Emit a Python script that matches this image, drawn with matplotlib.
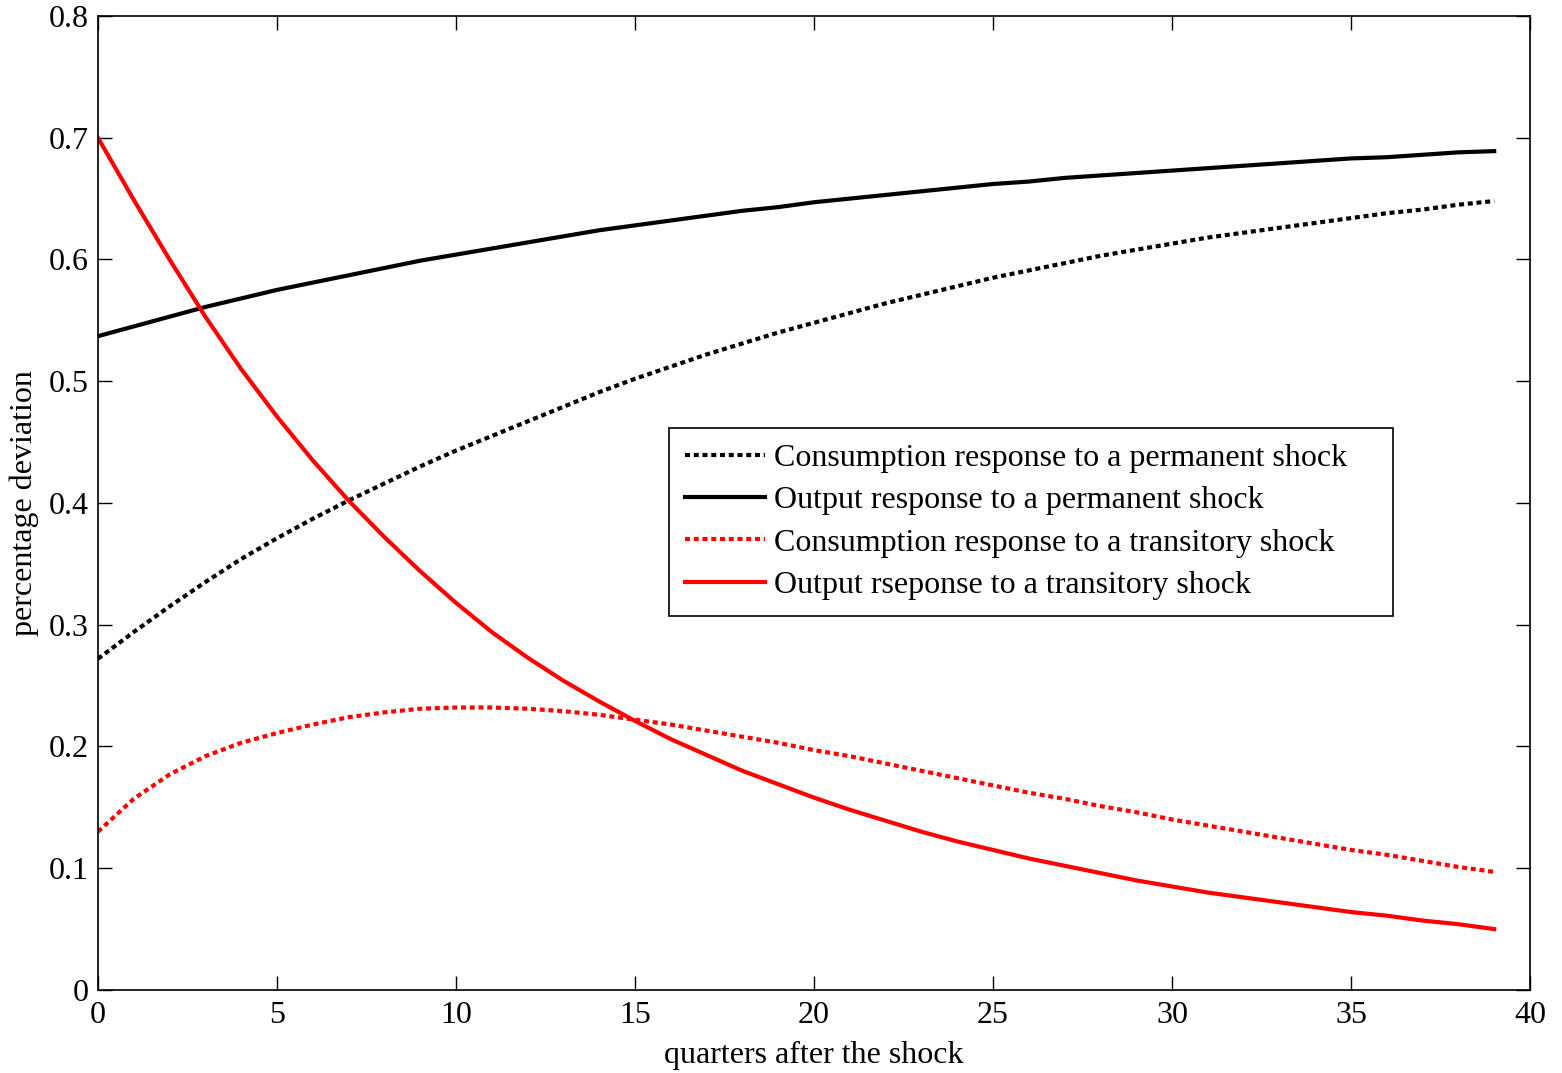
import matplotlib
matplotlib.use('Agg')
import matplotlib.pyplot as plt

# quarters 0..39
quarters = list(range(40))

cons_perm = [0.272, 0.294, 0.315, 0.335, 0.354, 0.371, 0.387, 0.402, 0.416, 0.430,
             0.443, 0.455, 0.467, 0.479, 0.491, 0.502, 0.512, 0.522, 0.531, 0.540,
             0.548, 0.556, 0.564, 0.571, 0.578, 0.585, 0.591, 0.597, 0.603, 0.608,
             0.613, 0.618, 0.622, 0.626, 0.630, 0.634, 0.638, 0.641, 0.645, 0.648]

out_perm = [0.537, 0.545, 0.553, 0.561, 0.568, 0.575, 0.581, 0.587, 0.593, 0.599,
            0.604, 0.609, 0.614, 0.619, 0.624, 0.628, 0.632, 0.636, 0.640, 0.643,
            0.647, 0.650, 0.653, 0.656, 0.659, 0.662, 0.664, 0.667, 0.669, 0.671,
            0.673, 0.675, 0.677, 0.679, 0.681, 0.683, 0.684, 0.686, 0.688, 0.689]

cons_trans = [0.130, 0.157, 0.177, 0.192, 0.203, 0.211, 0.218, 0.224, 0.228, 0.231,
              0.232, 0.232, 0.231, 0.229, 0.226, 0.222, 0.218, 0.213, 0.208, 0.203,
              0.197, 0.192, 0.186, 0.180, 0.174, 0.168, 0.162, 0.157, 0.151, 0.146,
              0.140, 0.135, 0.130, 0.125, 0.120, 0.115, 0.111, 0.106, 0.101, 0.097]

out_trans = [0.700, 0.649, 0.600, 0.553, 0.510, 0.471, 0.435, 0.402, 0.372, 0.344,
             0.318, 0.294, 0.273, 0.254, 0.237, 0.221, 0.206, 0.193, 0.180, 0.169,
             0.158, 0.148, 0.139, 0.130, 0.122, 0.115, 0.108, 0.102, 0.096, 0.090,
             0.085, 0.080, 0.076, 0.072, 0.068, 0.064, 0.061, 0.057, 0.054, 0.050]

labels = ['Consumption response to a permanent shock',
          'Output response to a permanent shock',
          'Consumption response to a transitory shock',
          'Output rseponse to a transitory shock']

x_ticks = [0, 5, 10, 15, 20, 25, 30, 35, 40]
y_ticks = [0, 0.1, 0.2, 0.3, 0.4, 0.5, 0.6, 0.7, 0.8]
y_tick_labels = ['0', '0.1', '0.2', '0.3', '0.4', '0.5', '0.6', '0.7', '0.8']

plt.rcParams['font.family'] = ['Liberation Serif', 'DejaVu Serif']

fig = plt.figure(figsize=(15.62, 10.73), dpi=100)
ax = fig.add_axes([0.0627, 0.0774, 0.9168, 0.9077])

dotted = (0, (1.2, 0.9))
lw = 3.0
ax.plot(quarters, cons_perm, color='black', linestyle=dotted, lw=lw, label=labels[0])
ax.plot(quarters, out_perm, color='black', linestyle='-', lw=lw, label=labels[1])
ax.plot(quarters, cons_trans, color='#ff0000', linestyle=dotted, lw=lw, label=labels[2])
ax.plot(quarters, out_trans, color='#ff0000', linestyle='-', lw=lw, label=labels[3])

ax.set_xlim(0, 40)
ax.set_ylim(0, 0.8)
ax.set_xticks(x_ticks)
ax.set_yticks(y_ticks)
ax.set_yticklabels(y_tick_labels)
ax.tick_params(direction='in', length=10, width=1, top=True, right=True,
               labelsize=23, pad=6.5)
ax.tick_params(axis='x', pad=8)
for sp in ax.spines.values():
    sp.set_linewidth(1.2)

ax.set_xlabel('quarters after the shock', fontsize=23, labelpad=8)
ax.set_ylabel('percentage deviation', fontsize=23, labelpad=7)

# legend box stretched to the same width as the original
leg = ax.legend(loc='upper left', bbox_to_anchor=(0.3987, 0.391, 0.5056, 0.186),
                mode='expand', fontsize=23,
                frameon=True, fancybox=False, edgecolor='black', framealpha=1,
                handlelength=2.5, handletextpad=0.3, borderpad=0.5,
                labelspacing=0.4, borderaxespad=0)
leg.get_frame().set_linewidth(1.2)

fig.savefig('out.png', dpi=100)
